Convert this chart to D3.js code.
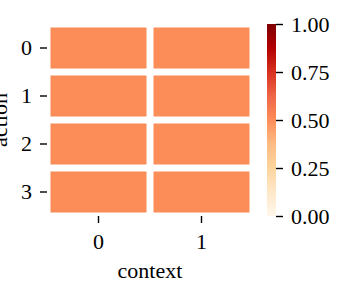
<!DOCTYPE html>
<html>
<head>
<meta charset="utf-8">
<script src="https://cdn.jsdelivr.net/npm/d3@7"></script>
<style>
  body { margin: 0; background: #fff; }
  text { font-family: "Liberation Serif", "DejaVu Serif", serif; fill: #000; }
</style>
</head>
<body>
<svg id="chart" width="350" height="299"></svg>
<script>
const actions = ['0', '1', '2', '3'];
const contexts = ['0', '1'];
// rows = actions, columns = contexts
const values = [
  [0.5, 0.5],
  [0.5, 0.5],
  [0.5, 0.5],
  [0.5, 0.5],
];
const colorTicks = [0, 0.25, 0.5, 0.75, 1];
// matplotlib OrRd is a linear blend of these
const orRd = ['#fff7ec', '#fee8c8', '#fdd49e', '#fdbb84', '#fc8d59', '#ef6548', '#d7301f', '#b30000', '#7f0000'];

const fontSize = 22;
const svg = d3.select('#chart');

const x = d3.scaleBand().domain(contexts).range([47, 253]);
const y = d3.scaleBand().domain(actions).range([24, 216]);
const color = d3
  .scaleLinear()
  .domain(orRd.map((d, i) => i / (orRd.length - 1)))
  .range(orRd)
  .interpolate(d3.interpolateRgb);

const cells = [];
values.forEach((row, i) => {
  row.forEach((v, j) => cells.push({ action: actions[i], context: contexts[j], value: v }));
});

const gap = 3.5;
svg
  .append('g')
  .selectAll('rect')
  .data(cells)
  .join('rect')
  .attr('x', (d) => x(d.context) + gap)
  .attr('y', (d) => y(d.action) + gap)
  .attr('width', x.bandwidth() - 2 * gap)
  .attr('height', y.bandwidth() - 2 * gap)
  .attr('fill', (d) => color(d.value));

const yAxis = svg
  .append('g')
  .attr('transform', 'translate(47,0)')
  .call(d3.axisLeft(y).tickSize(7).tickPadding(8));

const xAxis = svg
  .append('g')
  .attr('transform', 'translate(0,216)')
  .call(d3.axisBottom(x).tickSize(7).tickPadding(10));

// colorbar
const cb = d3.scaleLinear().domain([0, 1]).range([216, 24]);
const grad = svg
  .append('defs')
  .append('linearGradient')
  .attr('id', 'cbGrad')
  .attr('x1', 0)
  .attr('y1', 1)
  .attr('x2', 0)
  .attr('y2', 0);
grad
  .selectAll('stop')
  .data(orRd)
  .join('stop')
  .attr('offset', (d, i) => i / (orRd.length - 1))
  .attr('stop-color', (d) => d);

svg
  .append('rect')
  .attr('x', 267)
  .attr('y', cb(1))
  .attr('width', 9)
  .attr('height', cb(0) - cb(1))
  .attr('fill', 'url(#cbGrad)');

const cAxis = svg
  .append('g')
  .attr('transform', 'translate(276,0)')
  .call(d3.axisRight(cb).tickValues(colorTicks).tickFormat(d3.format('.2f')).tickSize(7).tickPadding(8));

[yAxis, xAxis, cAxis].forEach((g) => {
  g.select('.domain').remove();
  g.selectAll('.tick line').attr('stroke', '#000').attr('stroke-width', 1.4);
  g.selectAll('.tick text').attr('font-size', fontSize).style('font-family', '"Liberation Serif", serif');
});

svg
  .append('text')
  .attr('x', 150)
  .attr('y', 278)
  .attr('text-anchor', 'middle')
  .attr('font-size', fontSize)
  .text('context');

// cut off at the left edge, as in the original
svg
  .append('text')
  .attr('transform', 'translate(7,120) rotate(-90)')
  .attr('text-anchor', 'middle')
  .attr('font-size', fontSize)
  .text('action');
</script>
</body>
</html>
